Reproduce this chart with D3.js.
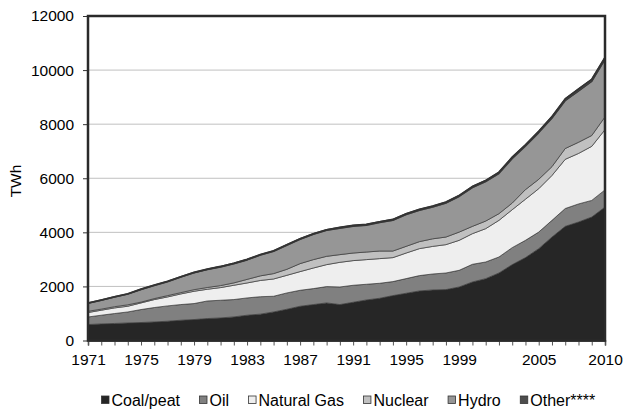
<!DOCTYPE html>
<html>
<head>
<meta charset="utf-8">
<script src="https://cdn.jsdelivr.net/npm/d3@7"></script>
<style>
  html, body { margin: 0; padding: 0; background: #fff; }
  svg { display: block; }
</style>
</head>
<body>
<svg id="chart" width="623" height="417"></svg>
<script>
const years = d3.range(1971, 2011);
const coal    = [590,614,630,650,665,687,713,750,775,812,835,873,935,975,1056,1156,1267,1329,1390,1329,1414,1500,1562,1661,1747,1833,1870,1882,1980,2165,2288,2497,2806,3065,3397,3826,4221,4381,4566,4935];
const oil     = [280,321,367,406,480,532,567,579,591,650,653,641,640,645,580,603,590,590,603,651,628,579,554,517,542,567,590,615,616,653,615,591,628,639,613,617,659,669,615,635];
const gas     = [164,185,208,211,245,294,331,393,455,433,469,529,553,600,639,652,691,762,813,911,912,912,912,887,946,997,1020,1048,1108,1133,1233,1355,1403,1521,1603,1661,1820,1867,1999,2227];
const nuclear = [46,40,45,53,30,37,49,48,59,65,73,87,132,170,199,222,295,310,307,285,281,281,281,244,247,259,280,281,306,270,281,247,245,355,347,326,400,413,400,473];
const hydro   = [290,320,350,390,460,480,510,570,620,660,685,705,715,765,816,882,894,930,956,973,988,988,1050,1130,1168,1153,1170,1248,1311,1427,1453,1481,1638,1600,1715,1783,1765,1890,1995,2110];
const other   = [20,20,20,20,20,20,20,20,20,20,25,25,25,25,30,30,30,30,30,35,35,35,35,40,40,40,40,45,45,50,50,55,60,60,65,70,75,80,85,90];

const seriesNames = ["Coal/peat", "Oil", "Natural Gas", "Nuclear", "Hydro", "Other****"];
const seriesValues = [coal, oil, gas, nuclear, hydro, other];
const colors = ["#262626", "#808080", "#eeeeee", "#c0c0c0", "#969696", "#4d4d4d"];
const xTickLabels = [1971, 1975, 1979, 1983, 1987, 1991, 1995, 1999, 2005, 2010];
const yTicks = [0, 2000, 4000, 6000, 8000, 10000, 12000];
const yTitle = "TWh";

const FONT = "'Liberation Sans', Arial, Helvetica, sans-serif";
const svg = d3.select("#chart");
const m = { left: 88, right: 605, top: 16, bottom: 340.5 };

const x = d3.scaleLinear().domain([1971, 2010]).range([m.left, m.right]);
const y = d3.scaleLinear().domain([0, 12000]).range([m.bottom, m.top]);

const table = years.map((yr, i) => {
  const row = { year: yr };
  seriesNames.forEach((n, k) => row[n] = seriesValues[k][i]);
  return row;
});
const stack = d3.stack().keys(seriesNames)(table);

// gridlines
svg.append("g")
  .selectAll("line")
  .data(yTicks.filter(d => d > 0 && d < 12000))
  .join("line")
  .attr("x1", m.left).attr("x2", m.right)
  .attr("y1", d => y(d)).attr("y2", d => y(d))
  .attr("stroke", "#c0c0c0").attr("stroke-width", 1);

// areas
const area = d3.area()
  .x(d => x(d.data.year))
  .y0(d => y(d[0]))
  .y1(d => y(d[1]));

svg.append("g")
  .selectAll("path")
  .data(stack)
  .join("path")
  .attr("d", area)
  .attr("fill", (d, i) => colors[i])
  .attr("stroke", "#3a3a3a")
  .attr("stroke-width", (d, i) => i === 5 ? 1.2 : 0.7)
  .attr("stroke-linejoin", "round");

const topLine = d3.line().x(d => x(d.data.year)).y(d => y(d[1]));
svg.append("path")
  .datum(stack[5])
  .attr("d", topLine)
  .attr("fill", "none")
  .attr("stroke", "#333")
  .attr("stroke-width", 1.6);

// y axis
const yAxis = d3.axisLeft(y).tickValues(yTicks).tickSize(5).tickPadding(9).tickFormat(d3.format("d"));
const gy = svg.append("g").attr("transform", `translate(${m.left},0)`).call(yAxis)
  .attr("font-family", FONT).attr("font-size", 15.5);
gy.select(".domain").remove();
gy.selectAll(".tick line").attr("stroke", "#333");
gy.selectAll(".tick text").attr("fill", "#000").style("font-family", FONT).style("font-size", "15.5px");

// x axis
const xAxis = d3.axisBottom(x).tickValues(years).tickSize(5).tickPadding(8)
  .tickFormat(d => xTickLabels.includes(d) ? String(d) : "");
const gx = svg.append("g").attr("transform", `translate(0,${m.bottom})`).call(xAxis)
  .attr("font-family", FONT).attr("font-size", 15.5);
gx.select(".domain").attr("stroke", "#333").attr("stroke-width", 1.5);
gx.selectAll(".tick line").attr("stroke", "#555");
gx.selectAll(".tick text").attr("fill", "#000").style("font-family", FONT).style("font-size", "15.5px");

// frame
svg.append("rect")
  .attr("x", m.left).attr("y", m.top)
  .attr("width", m.right - m.left).attr("height", m.bottom - m.top)
  .attr("fill", "none").attr("stroke", "#2a2a2a").attr("stroke-width", 2.5);

// y title
svg.append("text")
  .attr("transform", `translate(21,181) rotate(-90)`)
  .attr("text-anchor", "middle")
  .style("font-family", FONT)
  .style("font-size", "15.5px")
  .text(yTitle);

// legend
const lg = svg.append("g").attr("transform", "translate(101,0)");
let cx = 0;
seriesNames.forEach((n, i) => {
  lg.append("rect")
    .attr("x", cx + 0.5).attr("y", 396).attr("width", 7.5).attr("height", 7.5)
    .attr("fill", colors[i]).attr("stroke", "#333").attr("stroke-width", 0.8);
  const t = lg.append("text")
    .attr("x", cx + 10.5).attr("y", 405.5)
    .style("font-family", FONT)
    .style("font-size", "16px")
    .text(n);
  cx += 10.5 + t.node().getComputedTextLength() + 19;
});
</script>
</body>
</html>
